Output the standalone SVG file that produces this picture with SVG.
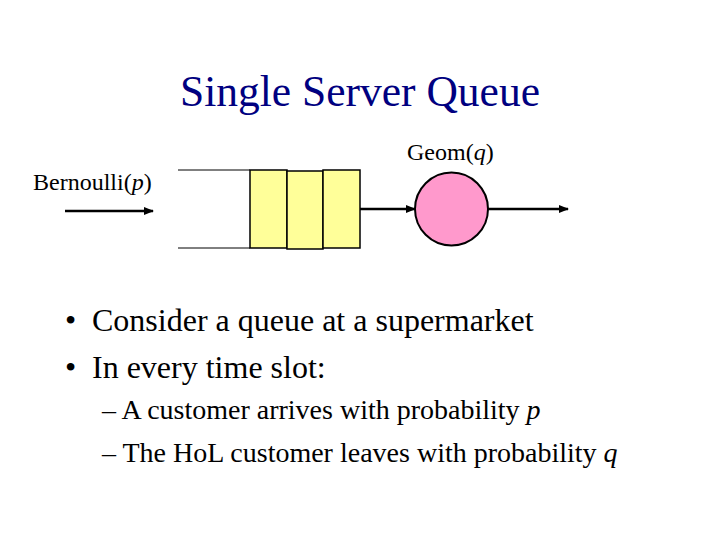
<svg xmlns="http://www.w3.org/2000/svg" width="720" height="540" viewBox="0 0 720 540">
<style>
text{font-family:"Liberation Serif","Times New Roman",serif;fill:#000}
.title{font-size:43.5px;fill:#000080}
.lbl{font-size:24px}
.b1{font-size:32px}
.b2{font-size:28px}
.slot{fill:#ffff99;stroke:#000;stroke-width:1.5}
.thin{stroke:#000;stroke-width:1;fill:none}
.conn{stroke:#000;stroke-width:2.5;fill:none}
</style>
<defs>
<marker id="ah" viewBox="0 0 10 10" refX="9" refY="5" markerWidth="4" markerHeight="4" orient="auto">
<path d="M0,1 L10,5 L0,9 z" fill="#000"/>
</marker>
</defs>
<rect width="720" height="540" fill="#fff"/>
<text class="title" x="360" y="106" text-anchor="middle">Single Server Queue</text>
<g id="queue">
<line class="thin" x1="178" y1="170" x2="250" y2="170"/>
<line class="thin" x1="178" y1="248" x2="250" y2="248"/>
<rect class="slot" x="250" y="170" width="37" height="78"/>
<rect class="slot" x="287" y="171" width="36" height="78"/>
<rect class="slot" x="323" y="170" width="37" height="78"/>
</g>
<g id="server">
<circle cx="451.5" cy="209" r="36.5" fill="#ff99cc" stroke="#000" stroke-width="2"/>
</g>
<g id="connectors">
<line class="conn" x1="65" y1="211" x2="153" y2="211" stroke-width="2" marker-end="url(#ah)"/>
<line class="conn" x1="360" y1="209" x2="415" y2="209" marker-end="url(#ah)"/>
<line class="conn" x1="488" y1="209" x2="568" y2="209" marker-end="url(#ah)"/>
</g>
<text class="lbl" x="33" y="190">Bernoulli(<tspan font-style="italic">p</tspan>)</text>
<text class="lbl" x="407" y="160">Geom(<tspan font-style="italic">q</tspan>)</text>
<text class="b1" x="65" y="331">•</text>
<text class="b1" x="92" y="331">Consider a queue at a supermarket</text>
<text class="b1" x="65" y="378">•</text>
<text class="b1" x="92" y="378">In every time slot:</text>
<text class="b2" x="102" y="419">– A customer arrives with probability <tspan font-style="italic">p</tspan></text>
<text class="b2" x="102" y="462">– The HoL customer leaves with probability <tspan font-style="italic">q</tspan></text>
</svg>
